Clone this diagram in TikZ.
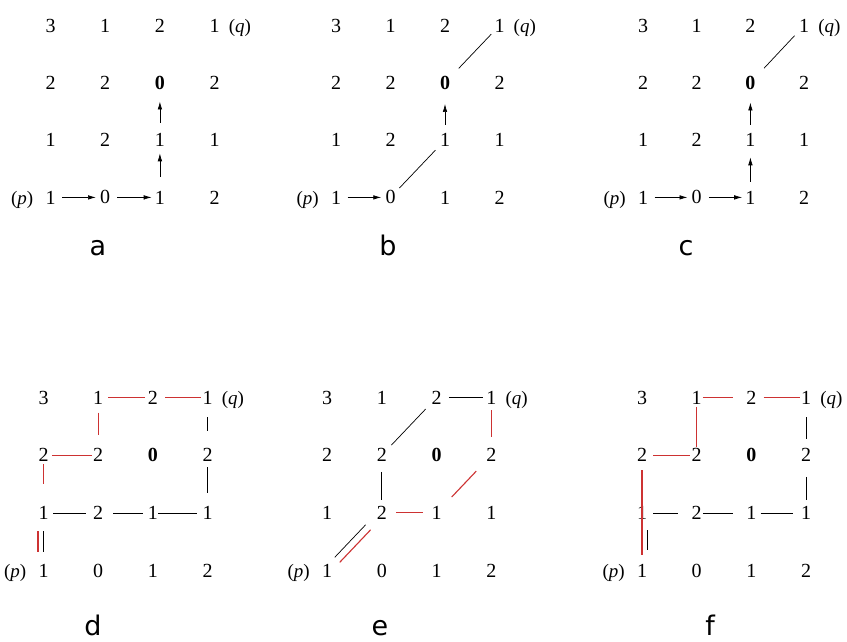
\documentclass[tikz,border=0pt]{standalone}
\usepackage{fontspec}
\setmainfont{Liberation Serif}
\newfontfamily\labfont{DejaVu Sans}
\usetikzlibrary{arrows.meta,calc}
\definecolor{pathred}{RGB}{205,50,50}
\tikzset{
  num/.style={rectangle, inner sep=0pt, minimum width=16pt, minimum height=30pt, font=\fontsize{20}{20}\selectfont},
  ln/.style={draw=black, line width=0.7pt},
  rl/.style={draw=pathred, line width=1.1pt},
  arr/.style={ln, -{Latex[length=8pt,width=4.5pt]}},
  sh/.style 2 args={shorten <=#1pt, shorten >=#2pt},
  pq/.style={font=\fontsize{19}{19}\selectfont, inner sep=0pt},
  captxt/.style={font=\labfont\fontsize{27}{27}\selectfont, inner sep=0pt, anchor=base},
}
\newcommand{\gridpanel}[5]{%
  \foreach \v [count=\i from 0] in {3,1,2,1,2,2,\textbf{0},2,1,2,1,1,1,0,1,2} {%
    \pgfmathtruncatemacro\rr{div(\i,4)+1}%
    \pgfmathtruncatemacro\cc{mod(\i,4)+1}%
    \node[num] (#1\rr\cc) at ({#2+(\cc-1)*#3},{#4+(\rr-1)*#5}) {\v};
  }%
  \node[pq, anchor=base west] (#1q) at ($(#114.base)+(14,0)$) {(\textit{q})};
  \node[pq, anchor=base east] (#1p) at ($(#141.base)+(-17,0)$) {(\textit{p})};
}
\begin{document}
\begin{tikzpicture}[x=1pt,y=-1pt]
\useasboundingbox (0,0) rectangle (847,642);
\fill[white] (0,0) rectangle (847,642);

\gridpanel{a}{50.5}{54.7}{25.5}{57.3}
\gridpanel{b}{336}{54.5}{25.5}{57.3}
\gridpanel{c}{643}{53.7}{25.5}{57.3}
\gridpanel{d}{43.5}{54.7}{397.5}{57.7}
\gridpanel{e}{327}{54.8}{397.5}{57.7}
\gridpanel{f}{642}{54.7}{397.5}{57.7}

% panel a
\draw[arr, sh={3.5}{1}] (a41) -- (a42);
\draw[arr, sh={4}{0}] (a42) -- (a43);
\draw[arr, sh={5.5}{-2}] (a43) -- (a33);
\draw[arr, sh={2}{3.5}] (a33) -- (a23);

% panel b
\draw[arr, sh={3.5}{1}] (b41) -- (b42);
\draw[ln, sh={1}{2}] (b42) -- (b33);
\draw[arr, sh={0}{6}] (b33) -- (b23);
\draw[ln, sh={8}{0}] (b23) -- (b14);

% panel c
\draw[arr, sh={3.5}{1}] (c41) -- (c42);
\draw[arr, sh={4}{0}] (c42) -- (c43);
\draw[arr, sh={0.5}{2}] (c43) -- (c33);
\draw[arr, sh={0}{4.5}] (c33) -- (c23);
\draw[ln, sh={8}{2}] (c23) -- (c14);

% panel d
\draw[rl, sh={2}{0}] (d12) -- (d13);
\draw[rl, sh={4}{-2}] (d13) -- (d14);
\draw[rl, sh={0}{5}] (d12) -- (d22);
\draw[rl, sh={0.5}{-2}] (d21) -- (d22);
\draw[rl, sh={-6}{14}] (d21) -- (d31);
\draw[ln, sh={1.5}{4}] (d31) -- (d32);
\draw[ln, sh={7}{2}] (d32) -- (d33);
\draw[ln, sh={-3}{2.5}] (d33) -- (d34);
\draw[ln, sh={4.5}{9}] (d14) -- (d24);
\draw[ln, sh={-3}{5}] (d24) -- (d34);
\draw[rl, sh={3}{3}] ([xshift=-5.5pt]d31.south) -- ([xshift=-5.5pt]d41.north);
\draw[ln, sh={3}{3}] ([xshift=-0.5pt]d31.south) -- ([xshift=-0.5pt]d41.north);

% panel e
\draw[ln, sh={4}{0.5}] (e13) -- (e14);
\draw[ln, sh={4}{2}] (e13) -- (e22);
\draw[rl, sh={-2.5}{3.5}] (e14) -- (e24);
\draw[rl, sh={10}{10}] (e24) -- (e33);
\draw[ln, sh={1.5}{-2.5}] (e22) -- (e32);
\draw[rl, sh={6}{5}] (e32) -- (e33);
\draw[ln, sh={3}{8}, transform canvas={xshift=-2.5pt,yshift=2.5pt}] (e41) -- (e32);
\draw[rl, sh={3}{8}, transform canvas={xshift=2.5pt,yshift=-2.5pt}] (e41) -- (e32);

% panel f
\draw[rl, sh={-2}{10}] (f12) -- (f13);
\draw[rl, sh={4}{-2}] (f13) -- (f14);
\draw[rl, sh={-6}{-7}] (f12) -- (f22);
\draw[rl, sh={3}{-1}] (f21) -- (f22);
\draw[rl, sh={0}{0}] (f21) -- (f41);
\draw[ln, sh={2}{5}] ([xshift=5pt]f31.south) -- ([xshift=5pt]f41.north);
\draw[ln, sh={3}{11}] (f31) -- (f32);
\draw[ln, sh={-2}{10}] (f32) -- (f33);
\draw[ln, sh={1}{5}] (f33) -- (f34);
\draw[ln, sh={4.5}{1.5}] (f14) -- (f24);
\draw[ln, sh={6.5}{-2.5}] (f24) -- (f34);

% captions
\node[captxt] (capa) at (98,255) {a};
\node[captxt] (capb) at (388,255) {b};
\node[captxt] (capc) at (686,255) {c};
\node[captxt] (capd) at (93,635) {d};
\node[captxt] (cape) at (380,635) {e};
\node[captxt] (capf) at (710,635) {f};
\end{tikzpicture}
\end{document}
